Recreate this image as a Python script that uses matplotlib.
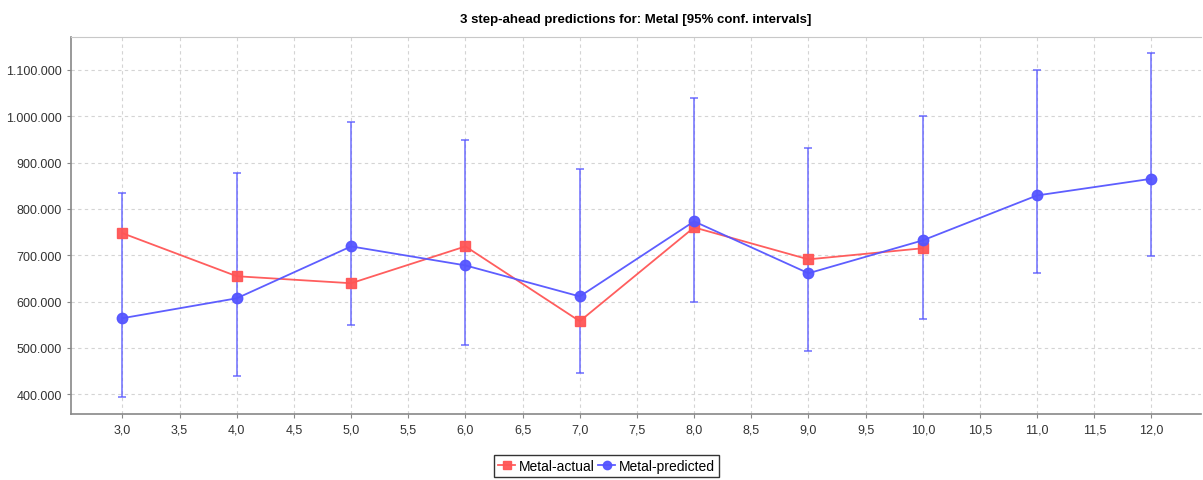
import matplotlib
matplotlib.use("Agg")
import matplotlib.pyplot as plt
from matplotlib.ticker import FuncFormatter, MultipleLocator

plt.rcParams['font.family'] = ['Liberation Sans', 'DejaVu Sans']

# datos
x_actual = [3, 4, 5, 6, 7, 8, 9, 10]
y_actual = [747500, 654600, 639500, 719000, 557500, 760000, 691000, 715000]

x_pred = [3, 4, 5, 6, 7, 8, 9, 10, 11, 12]
y_pred = [564000, 607000, 719000, 678000, 611000, 773000, 661000, 732000, 829000, 865000]
y_upper = [834000, 877000, 987000, 948000, 886000, 1039000, 931000, 1000000, 1100000, 1136000]
y_lower = [393000, 439000, 549000, 506000, 445000, 600000, 493000, 562000, 661000, 698000]

rojo = '#ff5555'
azul = '#5555ff'

fig = plt.figure(figsize=(12.03, 4.81), dpi=100)
ax = fig.add_axes([0.059, 0.137, 0.939, 0.784])

# barras de error del pronostico
err_lo = [p - l for p, l in zip(y_pred, y_lower)]
err_hi = [u - p for p, u in zip(y_pred, y_upper)]
ax.errorbar(x_pred, y_pred, yerr=[err_lo, err_hi], fmt='none', ecolor=azul,
            elinewidth=1.1, capsize=3, capthick=1.1, alpha=0.85, zorder=2)

ax.plot(x_actual, y_actual, '-', color=rojo, marker='s', markersize=7.5,
        linewidth=1.3, alpha=0.95, label='Metal-actual', zorder=3)
ax.plot(x_pred, y_pred, '-', color=azul, marker='o', markersize=7.5,
        linewidth=1.3, alpha=0.95, label='Metal-predicted', zorder=4)

ax.set_xlim(2.55, 12.43)
ax.set_ylim(357000, 1171000)
ax.xaxis.set_major_locator(MultipleLocator(0.5))
ax.yaxis.set_major_locator(MultipleLocator(100000))
ax.xaxis.set_major_formatter(FuncFormatter(lambda v, p: f'{v:.1f}'.replace('.', ',')))
ax.yaxis.set_major_formatter(FuncFormatter(lambda v, p: f'{int(v):,}'.replace(',', '.')))
ax.tick_params(labelsize=9, colors='#333333', length=3, color='#888888')

ax.grid(True, linestyle=(0, (3, 3)), color='#d4d4d4', linewidth=0.8)
ax.set_axisbelow(True)
for lado in ['left', 'bottom']:
    ax.spines[lado].set_color('#888888')
    ax.spines[lado].set_linewidth(1.2)
ax.spines['top'].set_color('#c8c8c8')
ax.spines['right'].set_visible(False)

ax.set_title('3 step-ahead predictions for: Metal [95% conf. intervals]',
             fontsize=9.5, fontweight='bold', pad=11)

leg = ax.legend(loc='upper center', bbox_to_anchor=(0.474, -0.1), ncol=2,
                fontsize=10, frameon=True, fancybox=False, handlelength=1.2,
                handletextpad=0.25, columnspacing=0.3, borderpad=0.3,
                borderaxespad=0.2, markerscale=0.8)
leg.get_frame().set_edgecolor('black')
leg.get_frame().set_linewidth(1.0)

plt.savefig('out.png', dpi=100)
